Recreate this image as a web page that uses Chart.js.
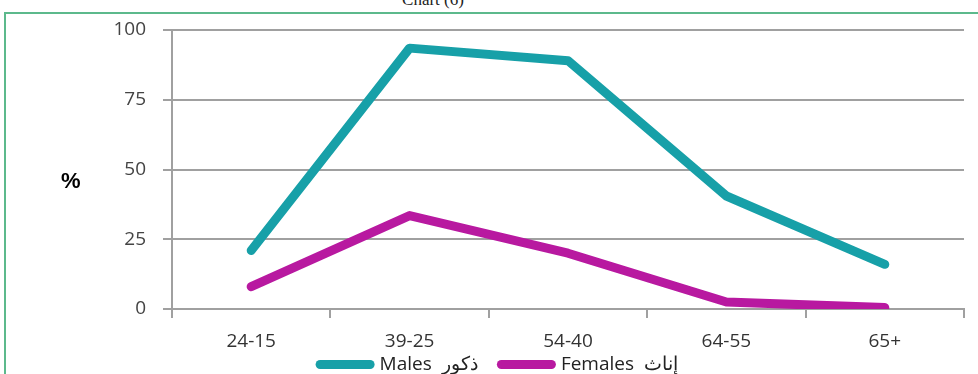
<!DOCTYPE html>
<html>
<head>
<meta charset="utf-8">
<script src="https://cdn.jsdelivr.net/npm/chart.js@4/dist/chart.umd.min.js"></script>
<style>
  html, body { margin: 0; padding: 0; background: #fff; }
  #wrap { position: relative; width: 978px; height: 374px; overflow: hidden; }
  #frame { position: absolute; left: 4px; top: 12px; width: 980px; height: 370px;
           border-top: 2px solid #5cb98c; border-left: 2px solid #5cb98c; box-sizing: border-box; }
  #title { position: absolute; left: 0; width: 866px; top: -10px; text-align: center;
           font: 17px "Liberation Serif", "DejaVu Serif", serif; color: #222; }
  #unit { position: absolute; left: 61px; top: 168px; font: bold 22px "Liberation Sans", Arial, sans-serif; color: #000; }
  canvas { position: absolute; left: 0; top: 0; }
</style>
</head>
<body>
<div id="wrap">
  <div id="frame"></div>
  <div id="title">Chart (6)</div>
  <canvas id="c" width="978" height="384"></canvas>
  <div id="unit">%</div>
</div>
<script>
// Age groups and participation rates (%)
const ageGroups = ['24-15', '39-25', '54-40', '64-55', '65+'];
const malesValues = [21, 93.5, 89, 40.5, 16];
const femalesValues = [8, 33.5, 20, 2.5, 0.5];
const yTicks = [0, 25, 50, 75, 100];

const labelFont = { family: '"Open Sans", sans-serif', size: 19 };

new Chart(document.getElementById('c'), {
  type: 'line',
  data: {
    labels: ageGroups,
    datasets: [
      {
        label: 'Males  ذكور    ',
        data: malesValues,
        borderColor: '#17a0a8',
        backgroundColor: '#17a0a8',
        borderWidth: 9,
        borderCapStyle: 'round',
        borderJoinStyle: 'round',
        pointRadius: 0,
        tension: 0
      },
      {
        label: 'Females  إناث',
        data: femalesValues,
        borderColor: '#b819a0',
        backgroundColor: '#b819a0',
        borderWidth: 9,
        borderCapStyle: 'round',
        borderJoinStyle: 'round',
        pointRadius: 0,
        tension: 0
      }
    ]
  },
  options: {
    responsive: false,
    animation: false,
    layout: { padding: { top: 30, left: 34, right: 14, bottom: 0 } },
    plugins: {
      tooltip: { enabled: false },
      legend: {
        position: 'bottom',
        labels: {
          usePointStyle: true,
          pointStyle: 'line',
          pointStyleWidth: 50,
          padding: 4,
          color: '#222',
          font: { family: '"Open Sans", sans-serif', size: 19 },
          // legend swatches keep the rounded line ends of the series
          generateLabels: (chart) =>
            Chart.defaults.plugins.legend.labels.generateLabels(chart)
              .map(item => Object.assign(item, { lineCap: 'round', lineWidth: 9 }))
        }
      }
    },
    scales: {
      x: {
        offset: true,
        grid: {
          offset: true,
          drawOnChartArea: false,
          drawTicks: true,
          tickLength: 9,
          color: '#a0a0a0',
          lineWidth: 2
        },
        border: { display: true, color: '#a0a0a0', width: 2 },
        ticks: { color: '#333', font: labelFont, padding: 12, maxRotation: 0 },
        afterFit: (s) => { s.height = 42; }
      },
      y: {
        min: 0,
        max: 100,
        afterBuildTicks: (s) => { s.ticks = yTicks.map(v => ({ value: v })); },
        grid: {
          color: '#a0a0a0',
          lineWidth: 2,
          drawTicks: true,
          tickLength: 9
        },
        border: { display: true, color: '#a0a0a0', width: 2 },
        ticks: { color: '#444', font: labelFont, padding: 17 },
        afterFit: (s) => { s.width = 138; }
      }
    }
  }
});
</script>
</body>
</html>
